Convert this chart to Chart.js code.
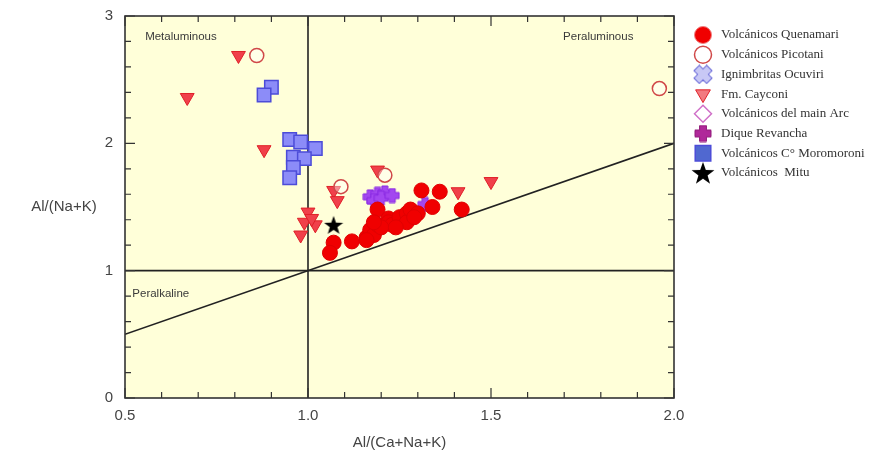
<!DOCTYPE html>
<html>
<head>
<meta charset="utf-8">
<script src="https://cdn.jsdelivr.net/npm/chart.js@4"></script>
<style>
  html, body { margin: 0; padding: 0; background: #fff; }
  #wrap { width: 884px; height: 464px; }
</style>
</head>
<body>
<div id="wrap"><canvas id="acnk"></canvas></div>
<script>
// Al/(Ca+Na+K) vs Al/(Na+K)
const quenamari = [
  {x:1.07,y:1.22},{x:1.06,y:1.14},{x:1.12,y:1.23},{x:1.16,y:1.26},{x:1.17,y:1.32},
  {x:1.18,y:1.28},{x:1.19,y:1.36},{x:1.19,y:1.48},{x:1.22,y:1.41},{x:1.22,y:1.38},
  {x:1.23,y:1.36},{x:1.25,y:1.42},{x:1.27,y:1.45},{x:1.27,y:1.38},{x:1.28,y:1.48},
  {x:1.30,y:1.45},{x:1.31,y:1.63},{x:1.36,y:1.62},{x:1.34,y:1.50},{x:1.42,y:1.48},
  {x:1.20,y:1.34},{x:1.24,y:1.34},{x:1.18,y:1.38},{x:1.16,y:1.24},{x:1.29,y:1.42}
];
const picotani = [
  {x:0.86,y:2.69},{x:1.96,y:2.43},{x:1.21,y:1.75},{x:1.09,y:1.66}
];
const ocuviri = [];
const cayconi = [
  {x:0.81,y:2.69},{x:0.67,y:2.36},{x:0.88,y:1.95},{x:1.19,y:1.79},{x:1.07,y:1.63},
  {x:1.08,y:1.55},{x:1.00,y:1.46},{x:0.99,y:1.38},{x:1.02,y:1.36},{x:0.98,y:1.28},
  {x:1.01,y:1.41},{x:1.41,y:1.62},{x:1.50,y:1.70}
];
const mainArc = [];
const revancha = [
  {x:1.17,y:1.58},{x:1.19,y:1.60},{x:1.21,y:1.61},{x:1.18,y:1.55},{x:1.20,y:1.57},
  {x:1.23,y:1.59},{x:1.32,y:1.52}
];
const moromoroni = [
  {x:0.90,y:2.44},{x:0.88,y:2.38},{x:0.95,y:2.03},{x:0.98,y:2.01},{x:1.02,y:1.96},
  {x:0.96,y:1.89},{x:0.99,y:1.88},{x:0.96,y:1.81},{x:0.95,y:1.73}
];
const mitu = [{x:1.07,y:1.36}];

// field boundaries
const diagLine = [{x:0.5,y:0.5},{x:2.0,y:2.0}];
const vertLine = [{x:1.0,y:0},{x:1.0,y:3}];
const horizLine = [{x:0.5,y:1.0},{x:2.0,y:1.0}];

const xTicks = [0.5, 1.0, 1.5, 2.0];
const yTicks = [0, 1, 2, 3];

// custom filled symbols
function makeSymbol(size, draw) {
  const c = document.createElement('canvas');
  c.width = size; c.height = size;
  draw(c.getContext('2d'), size);
  return c;
}
function starImg(size) {
  return makeSymbol(size, (g, s) => {
    g.beginPath();
    for (let i = 0; i < 10; i++) {
      const r = i % 2 === 0 ? s / 2 : s / 5;
      const a = -Math.PI / 2 + i * Math.PI / 5;
      g.lineTo(s / 2 + r * Math.cos(a), s / 2 + 1 + r * Math.sin(a));
    }
    g.closePath();
    g.fillStyle = '#000';
    g.fill();
  });
}
function plusImg(size, color, edge, rot) {
  return makeSymbol(size, (g, s) => {
    g.translate(s / 2, s / 2);
    g.rotate(rot);
    g.beginPath();
    const l = s / 2 - 1, w = s * 0.19;
    g.moveTo(-w, -l); g.lineTo(w, -l); g.lineTo(w, -w); g.lineTo(l, -w); g.lineTo(l, w);
    g.lineTo(w, w); g.lineTo(w, l); g.lineTo(-w, l); g.lineTo(-w, w); g.lineTo(-l, w);
    g.lineTo(-l, -w); g.lineTo(-w, -w); g.closePath();
    g.fillStyle = color; g.fill();
    g.strokeStyle = edge; g.lineWidth = 1; g.stroke();
  });
}
const revanchaImg = plusImg(16, '#a347f0', '#8a2be2', 0);
const ocuviriImg = plusImg(16, '#c8c8f5', '#6a6ad8', Math.PI / 4);
const ocuviriKey = plusImg(20, '#c8c8f5', '#6a6ad8', Math.PI / 4);
const revanchaKey = plusImg(18, '#b0289a', '#901878', 0);
const mituImg = starImg(20);
const mituKey = starImg(24);

const bgPlugin = {
  id: 'plotBg',
  beforeDraw(chart) {
    const { ctx, chartArea: a } = chart;
    ctx.save();
    ctx.fillStyle = '#fff';
    ctx.fillRect(0, 0, chart.width, chart.height);
    ctx.fillStyle = '#ffffd9';
    ctx.fillRect(a.left, a.top, a.right - a.left, a.bottom - a.top);
    ctx.restore();
  }
};

const framePlugin = {
  id: 'frameTicks',
  afterDatasetsDraw(chart) {
    const { ctx, chartArea: a, scales: { x, y } } = chart;
    ctx.save();
    ctx.strokeStyle = '#333';
    ctx.lineWidth = 1.2;
    for (let i = 0; i <= 15; i++) {
      const px = x.getPixelForValue(0.5 + i * 0.1);
      const len = i % 5 === 0 ? 10 : 6;
      ctx.beginPath();
      ctx.moveTo(px, a.bottom); ctx.lineTo(px, a.bottom - len);
      ctx.moveTo(px, a.top); ctx.lineTo(px, a.top + len);
      ctx.stroke();
    }
    for (let i = 0; i <= 15; i++) {
      const py = y.getPixelForValue(i * 0.2);
      const len = i % 5 === 0 ? 10 : 6;
      ctx.beginPath();
      ctx.moveTo(a.left, py); ctx.lineTo(a.left + len, py);
      ctx.moveTo(a.right, py); ctx.lineTo(a.right - len, py);
      ctx.stroke();
    }
    ctx.lineWidth = 1.6;
    ctx.strokeRect(a.left, a.top, a.right - a.left, a.bottom - a.top);

    // field names
    ctx.fillStyle = '#3a3a3a';
    ctx.font = '11.5px "Liberation Sans", Arial, sans-serif';
    ctx.textBaseline = 'middle';
    ctx.textAlign = 'left';
    ctx.fillText('Metaluminous', x.getPixelForValue(0.555), y.getPixelForValue(2.84));
    ctx.fillText('Peraluminous', x.getPixelForValue(1.697), y.getPixelForValue(2.84));
    ctx.fillText('Peralkaline', x.getPixelForValue(0.52), y.getPixelForValue(0.82));

    // horizontal y-axis title
    ctx.fillStyle = '#444';
    ctx.font = '15px "Liberation Sans", Arial, sans-serif';
    ctx.textAlign = 'center';
    ctx.fillText('Al/(Na+K)', 64, y.getPixelForValue(1.5));
    ctx.restore();
  }
};

// legend drawn by hand so it can sit where the original one is
const legendPlugin = {
  id: 'keyBox',
  afterDraw(chart) {
    const { ctx, chartArea: a } = chart;
    const x0 = a.right + 29, y0 = 35, step = 19.7;
    ctx.save();
    ctx.font = '13px "Liberation Serif", "Times New Roman", serif';
    ctx.textBaseline = 'middle';
    ctx.textAlign = 'left';
    let row = 0;
    chart.data.datasets.forEach(ds => {
      if (!ds.label) return;
      const cy = y0 + row * step;
      ctx.fillStyle = ds.keyFill || ds.backgroundColor;
      ctx.strokeStyle = ds.keyEdge || ds.borderColor;
      ctx.lineWidth = ds.borderWidth || 1;
      Chart.helpers.drawPoint(ctx, {
        pointStyle: ds.keyStyle || ds.pointStyle,
        rotation: ds.pointRotation || 0,
        radius: ds.keyRadius || 8.5,
        borderWidth: ds.borderWidth || 1
      }, x0, cy);
      ctx.fillStyle = '#333';
      ctx.fillText(ds.label, a.right + 47, cy);
      row++;
    });
    ctx.restore();
  }
};

function lineSet(data) {
  return {
    label: '', data: data, showLine: true, pointRadius: 0,
    borderColor: '#222', borderWidth: 1.6, fill: false, order: 10
  };
}

const ctx = document.getElementById('acnk');
const acnkChart = new Chart(ctx, {
  type: 'scatter',
  data: {
    datasets: [
      { label: 'Volcánicos Quenamari', data: quenamari, pointStyle: 'circle', pointRadius: 7.5,
        backgroundColor: '#f00000', borderColor: '#e00000', borderWidth: 1, keyEdge: '#f08080' },
      { label: 'Volcánicos Picotani', data: picotani, pointStyle: 'circle', pointRadius: 7,
        backgroundColor: 'rgba(255,255,255,0.4)', borderColor: '#d04848', borderWidth: 1.5 },
      { label: 'Ignimbritas Ocuviri', data: ocuviri, pointStyle: ocuviriImg, pointRadius: 7,
        backgroundColor: '#c8c8f5', borderColor: '#6a6ad8', keyStyle: ocuviriKey },
      { label: 'Fm. Cayconi', data: cayconi, pointStyle: 'triangle', pointRotation: 180, pointRadius: 8,
        backgroundColor: '#f0404a', borderColor: '#e02028', borderWidth: 1, keyFill: '#f27a80' },
      { label: 'Volcánicos del main Arc', data: mainArc, pointStyle: 'rectRot', pointRadius: 7,
        backgroundColor: 'rgba(255,255,255,0)', borderColor: '#d070c8', borderWidth: 1.5 },
      { label: 'Dique Revancha', data: revancha, pointStyle: revanchaImg, pointRadius: 8,
        backgroundColor: '#a347f0', borderColor: '#8a2be2', keyStyle: revanchaKey },
      { label: 'Volcánicos C° Moromoroni', data: moromoroni, pointStyle: 'rect', pointRadius: 9.5,
        backgroundColor: '#8c8cf8', borderColor: '#4c4cd8', borderWidth: 1.5, keyFill: '#5068d0', keyRadius: 11 },
      { label: 'Volcánicos  Mitu', data: mitu, pointStyle: mituImg, pointRadius: 10,
        backgroundColor: '#000', borderColor: '#000', keyStyle: mituKey },
      lineSet(diagLine), lineSet(vertLine), lineSet(horizLine)
    ]
  },
  options: {
    responsive: true,
    maintainAspectRatio: false,
    animation: false,
    layout: { padding: { top: 16, left: 0, right: 210, bottom: 0 } },
    plugins: {
      tooltip: { enabled: false },
      legend: { display: false }
    },
    scales: {
      x: {
        type: 'linear', min: 0.5, max: 2.0,
        afterBuildTicks: s => { s.ticks = xTicks.map(v => ({ value: v })); },
        ticks: { color: '#444', padding: 1, font: { family: '"Liberation Sans", Arial, sans-serif', size: 15 },
                 callback: v => Number(v).toFixed(1) },
        grid: { display: false },
        border: { display: false },
        title: { display: true, text: 'Al/(Ca+Na+K)', color: '#444', padding: { top: 4, bottom: 12 },
                 font: { family: '"Liberation Sans", Arial, sans-serif', size: 15 } },
        afterFit: s => { s.height = 66; }
      },
      y: {
        type: 'linear', min: 0, max: 3,
        afterBuildTicks: s => { s.ticks = yTicks.map(v => ({ value: v })); },
        ticks: { color: '#444', padding: 4, font: { family: '"Liberation Sans", Arial, sans-serif', size: 15 } },
        grid: { display: false },
        border: { display: false },
        afterFit: s => { s.width = 125; }
      }
    }
  },
  plugins: [bgPlugin, framePlugin, legendPlugin]
});
</script>
</body>
</html>
